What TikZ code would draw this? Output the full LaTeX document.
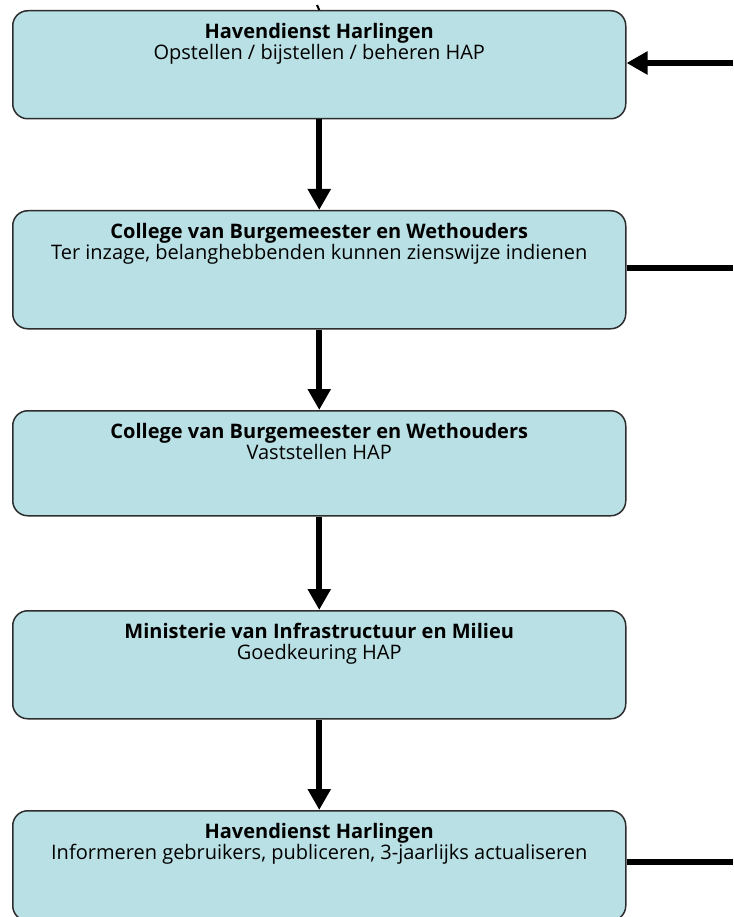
\documentclass[tikz,border=0pt]{standalone}
\usepackage{fontspec}
\setmainfont{Open Sans}
\usetikzlibrary{arrows.meta}
\definecolor{boxfill}{RGB}{185,224,228}
\definecolor{boxline}{RGB}{45,45,45}
\tikzset{
  stepbox/.style={draw=boxline, line width=1.5pt, fill=boxfill, rounded corners=15pt,
    minimum width=613pt, inner sep=0pt, anchor=north west},
  boxtext/.style={align=center, anchor=north, inner sep=0pt,
    font=\fontsize{20}{21}\selectfont},
  flow/.style={line width=6pt, -{Triangle[length=21pt,width=22pt]}},
  plainline/.style={line width=6pt}
}
\begin{document}
\begin{tikzpicture}[x=1pt,y=-1pt]
\useasboundingbox (0,0) rectangle (733,917);
\node[stepbox, minimum height=108pt] (b1) at (12,10) {};
\node[stepbox, minimum height=118pt] (b2) at (12,210) {};
\node[stepbox, minimum height=105pt] (b3) at (12,410) {};
\node[stepbox, minimum height=108pt] (b4) at (12,610) {};
\node[stepbox, minimum height=110pt] (b5) at (12,810) {};

\node[boxtext] (t1) at ([yshift=-13pt]b1.north) {\textbf{Havendienst Harlingen}\\Opstellen / bijstellen / beheren HAP};
\node[boxtext] (t2) at ([yshift=-13pt]b2.north) {\textbf{College van Burgemeester en Wethouders}\\Ter inzage, belanghebbenden kunnen zienswijze indienen};
\node[boxtext] (t3) at ([yshift=-13pt]b3.north) {\textbf{College van Burgemeester en Wethouders}\\Vaststellen HAP};
\node[boxtext] (t4) at ([yshift=-13pt]b4.north) {\textbf{Ministerie van Infrastructuur en Milieu}\\Goedkeuring HAP};
\node[boxtext] (t5) at ([yshift=-13pt]b5.north) {\textbf{Havendienst Harlingen}\\Informeren gebruikers, publiceren, 3-jaarlijks actualiseren};

\draw[flow] (b1.south) -- (b2.north);
\draw[flow] (b2.south) -- (b3.north);
\draw[flow] (b3.south) -- (b4.north);
\draw[flow] (b4.south) -- (b5.north);

\coordinate (in1) at (733,63);
\coordinate (out2) at (733,268);
\coordinate (out5) at (733,862);
\coordinate (top) at (317,5);
\draw[flow] (in1) -- (in1 -| b1.east);
\draw[plainline] (out2 -| b2.east) -- (out2);
\draw[plainline] (out5 -| b5.east) -- (out5);
\draw[line width=2pt] (top) -- (b1.north);
\end{tikzpicture}
\end{document}
